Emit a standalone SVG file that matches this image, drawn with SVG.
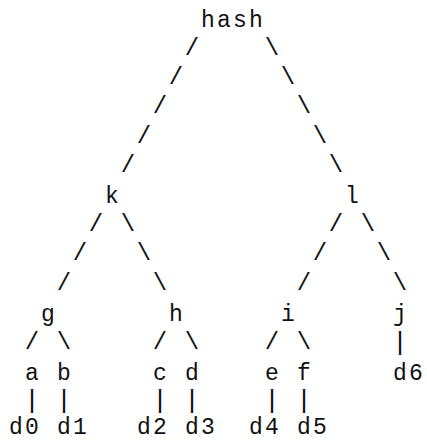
<svg xmlns="http://www.w3.org/2000/svg" width="427" height="441" viewBox="0 0 427 441">
<style>
text{font-family:"Courier New","Liberation Mono",monospace;fill:#111}
.n{font-size:23px;letter-spacing:2.2px}
.s{font-size:24px;text-anchor:middle}
.p{font-size:26.67px;text-anchor:middle}
</style>
<rect width="427" height="441" fill="#fff"/>
<g id="connectors">
<text class="s" x="192" y="54.5">/</text><text class="s" x="176" y="83.9">/</text><text class="s" x="160" y="113.3">/</text><text class="s" x="144" y="142.7">/</text><text class="s" x="128" y="172.1">/</text>
<text class="s" x="272" y="54.5">\</text><text class="s" x="288" y="83.9">\</text><text class="s" x="304" y="113.3">\</text><text class="s" x="320" y="142.7">\</text><text class="s" x="336" y="172.1">\</text>
<text class="s" x="96" y="230.9">/</text><text class="s" x="80" y="260.3">/</text><text class="s" x="64" y="289.7">/</text>
<text class="s" x="128" y="230.9">\</text><text class="s" x="144" y="260.3">\</text><text class="s" x="160" y="289.7">\</text>
<text class="s" x="336" y="230.9">/</text><text class="s" x="320" y="260.3">/</text><text class="s" x="304" y="289.7">/</text>
<text class="s" x="368" y="230.9">\</text><text class="s" x="384" y="260.3">\</text><text class="s" x="400" y="289.7">\</text>
<text class="s" x="32" y="348.5">/</text><text class="s" x="64" y="348.5">\</text>
<text class="s" x="160" y="348.5">/</text><text class="s" x="192" y="348.5">\</text>
<text class="s" x="272" y="348.5">/</text><text class="s" x="304" y="348.5">\</text>
<text class="p" x="400" y="349.5">|</text>
<text class="p" x="32" y="408.3">|</text><text class="p" x="64" y="408.3">|</text>
<text class="p" x="160" y="408.3">|</text><text class="p" x="192" y="408.3">|</text>
<text class="p" x="272" y="408.3">|</text><text class="p" x="304" y="408.3">|</text>
</g>
<g id="hash"><text class="n" x="201.1" y="26.7">hash</text></g>
<g id="k"><text class="n" x="105.1" y="203.1">k</text></g>
<g id="l"><text class="n" x="345.1" y="203.1">l</text></g>
<g id="g"><text class="n" x="41.1" y="320.7">g</text></g>
<g id="h"><text class="n" x="169.1" y="320.7">h</text></g>
<g id="i"><text class="n" x="281.1" y="320.7">i</text></g>
<g id="j"><text class="n" x="393.1" y="320.7">j</text></g>
<g id="a"><text class="n" x="25.1" y="379.5">a</text></g>
<g id="b"><text class="n" x="57.1" y="379.5">b</text></g>
<g id="c"><text class="n" x="153.1" y="379.5">c</text></g>
<g id="d"><text class="n" x="185.1" y="379.5">d</text></g>
<g id="e"><text class="n" x="265.1" y="379.5">e</text></g>
<g id="f"><text class="n" x="297.1" y="379.5">f</text></g>
<g id="d6"><text class="n" x="393.1" y="379.5">d6</text></g>
<g id="d0"><text class="n" x="9.1" y="434.3">d0</text></g>
<g id="d1"><text class="n" x="57.1" y="434.3">d1</text></g>
<g id="d2"><text class="n" x="137.1" y="434.3">d2</text></g>
<g id="d3"><text class="n" x="185.1" y="434.3">d3</text></g>
<g id="d4"><text class="n" x="249.1" y="434.3">d4</text></g>
<g id="d5"><text class="n" x="297.1" y="434.3">d5</text></g>
</svg>
